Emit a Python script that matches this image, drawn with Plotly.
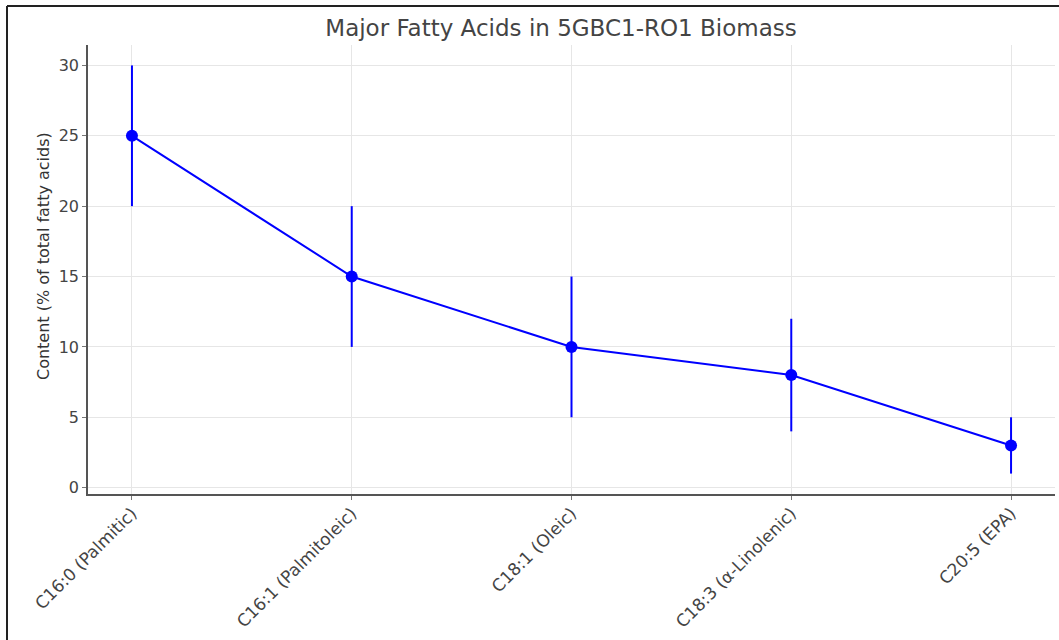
import plotly.graph_objects as go

categories = ["C16:0 (Palmitic)", "C16:1 (Palmitoleic)", "C18:1 (Oleic)",
              "C18:3 (α-Linolenic)", "C20:5 (EPA)"]
values = [25, 15, 10, 8, 3]
errors = [5, 5, 5, 4, 2]
y_ticks = [0, 5, 10, 15, 20, 25, 30]

W, H = 1059, 640
L, R, T, B = 88, 4, 45, 146
pw, ph = W - L - R, H - T - B

fig = go.Figure()
fig.add_trace(go.Scatter(
    x=list(range(len(categories))), y=values,
    mode="lines+markers",
    line=dict(color="#0000ff", width=2),
    marker=dict(color="#0000ff", size=12),
    error_y=dict(type="data", array=errors, visible=True,
                 color="#0000ff", thickness=2, width=0),
    showlegend=False,
))

def px_x(p):
    return (p - L) / pw

def px_y(p):
    return (H - B - p) / ph

fig.update_layout(
    width=W, height=H,
    margin=dict(l=L, r=R, t=T, b=B),
    paper_bgcolor="white", plot_bgcolor="white",
    font=dict(family="DejaVu Sans", color="#333333"),
    title=dict(text="Major Fatty Acids in 5GBC1-RO1 Biomass",
               x=561 / W, xanchor="center", xref="container",
               y=1 - 28 / H, yanchor="middle",
               font=dict(size=23, color="#444444")),
    xaxis=dict(
        range=[-0.2, 4.2], automargin=False,
        tickmode="array", tickvals=list(range(len(categories))),
        ticktext=categories, tickangle=-45,
        tickfont=dict(size=17, color="#444444"),
        ticklabelstandoff=-3,
        showgrid=True, gridcolor="#e6e6e6", gridwidth=1,
        showline=True, linecolor="#555555", linewidth=1.5,
        ticks="outside", ticklen=4, tickcolor="#777777",
        zeroline=False,
    ),
    yaxis=dict(
        range=[-0.45, 31.45], automargin=False,
        tickmode="array", tickvals=y_ticks,
        tickfont=dict(size=16, color="#444444"),
        showgrid=True, gridcolor="#e6e6e6", gridwidth=1,
        showline=True, linecolor="#555555", linewidth=1.5,
        ticks="outside", ticklen=4, tickcolor="#777777",
        zeroline=False,
    ),
    annotations=[
        dict(text="Content (% of total fatty acids)", textangle=-90,
             xref="paper", yref="paper", x=px_x(43), y=px_y(256),
             xanchor="center", yanchor="middle", showarrow=False,
             font=dict(size=16, color="#333333")),
    ],
    shapes=[
        dict(type="line", xref="paper", yref="paper",
             x0=px_x(7), x1=px_x(7), y0=px_y(H + 5), y1=px_y(6),
             line=dict(color="#222222", width=2)),
        dict(type="line", xref="paper", yref="paper",
             x0=px_x(7), x1=px_x(W + 5), y0=px_y(6), y1=px_y(6),
             line=dict(color="#222222", width=2)),
    ],
)

fig.write_html("out.html")
